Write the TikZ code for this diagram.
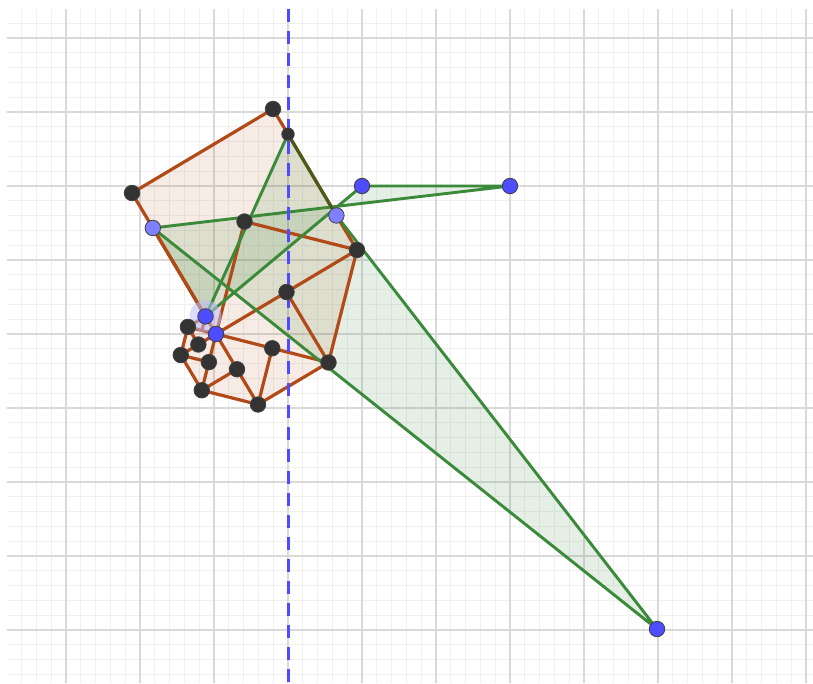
\documentclass[tikz,border=0pt]{standalone}
\usetikzlibrary{calc}
\definecolor{brownc}{RGB}{178,74,24}
\definecolor{greenc}{RGB}{58,138,58}
\definecolor{olivec}{RGB}{72,92,26}
\definecolor{bluept}{RGB}{77,77,255}
\definecolor{lbluept}{RGB}{128,128,255}
\definecolor{darkpt}{RGB}{51,51,51}
\definecolor{halo}{RGB}{190,190,250}
\begin{document}
\begin{tikzpicture}[x=1pt,y=-1pt,
  minorgrid/.style={draw=black!6, line width=0.9pt},
  majorgrid/.style={draw=black!15, line width=1.5pt},
  brownedge/.style={draw=brownc, line width=3.2pt, line join=round, line cap=round},
  greenedge/.style={draw=greenc, line width=2.9pt, line join=round, line cap=round},
  oliveedge/.style={draw=olivec, line width=3.1pt, line cap=round},
  brownfill/.style={fill=brownc, fill opacity=0.11},
  greenfill/.style={fill=greenc, fill opacity=0.13},
  ptbase/.style={circle, inner sep=0pt, minimum size=15.5pt, draw=black!75, line width=0.8pt},
  darkdot/.style={ptbase, fill=darkpt},
  smalldark/.style={ptbase, fill=darkpt, minimum size=12.5pt},
  bluedot/.style={ptbase, fill=bluept},
  lbluedot/.style={ptbase, fill=lbluept},
  axisline/.style={draw=bluept, line width=3pt, dash pattern=on 13pt off 9pt}
]
\useasboundingbox (0,0) rectangle (813,683);
\fill[white] (0,0) rectangle (813,683);
% grid
\begin{scope}
\clip (7,9) rectangle (813,683);
\foreach \i in {0,...,55} { \draw[minorgrid] ({6.8+14.8*\i},9) -- ({6.8+14.8*\i},683); }
\foreach \i in {0,...,46} { \draw[minorgrid] (7,{8.4+14.8*\i}) -- (813,{8.4+14.8*\i}); }
\foreach \x in {66,140,214,288,362,436,510,584,658,732,806} { \draw[majorgrid] (\x,9) -- (\x,683); }
\foreach \y in {38,112,186,260,334,408,482,556,630} { \draw[majorgrid] (7,\y) -- (813,\y); }
\end{scope}
% points
\coordinate (P2) at (216,334);
\coordinate (A) at (273,109);
\coordinate (C) at (132,193);
\coordinate (E) at (357,250);
\coordinate (G) at (328.5,362.5);
\coordinate (H) at (258,404.5);
\coordinate (I) at (201.75,390.25);
\coordinate (L) at (180.75,355);
\coordinate (M) at (187.9,326.9);
\coordinate (P1) at (205.5,316.4);
\coordinate (D) at ($(P2)!0.5!(A)$);
\coordinate (F) at ($(P2)!0.5!(E)$);
\coordinate (K) at ($(P2)!0.5!(G)$);
\coordinate (J) at ($(P2)!0.5!(H)$);
\coordinate (O) at ($(P2)!0.5!(I)$);
\coordinate (N) at ($(P2)!0.5!(L)$);
\coordinate (Z) at ($(P2)!0.5!(M)$);
\coordinate (B) at ($(A)!0.1786!(E)$);
\coordinate (Q1) at ($(A)!0.755!(E)$);
\coordinate (Q2) at ($(C)!0.248!(P2)$);
\coordinate (S1) at (362,186);
\coordinate (S2) at (510,186);
\coordinate (R) at (657,629);
\coordinate (Top) at (288,9);
\coordinate (Bot) at (288,683);
% fills
\path[brownfill] (P2)--(C)--(A)--(E)--cycle;
\path[brownfill] (P2)--(E)--(G)--cycle;
\path[brownfill] (P2)--(G)--(H)--cycle;
\path[brownfill] (P2)--(H)--(I)--cycle;
\path[brownfill] (P2)--(I)--(L)--cycle;
\path[brownfill] (P2)--(L)--(M)--cycle;
\path[brownfill] (P2)--(M)--(P1)--cycle;
\path[greenfill] (Q2)--(S2)--(S1)--(P1)--cycle;
\path[greenfill] (B)--(Q1)--(R)--(Q2)--(P1)--cycle;
% edges
\draw[greenedge] (Q2)--(P1);
\draw[brownedge] (C)--(A)--(E)--(G)--(H)--(I)--(L)--(M)--(P1);
\draw[brownedge] (C)--(P2);
\draw[brownedge] (E)--(P2);
\draw[brownedge] (D)--(E);
\draw[brownedge] (D)--(P2);
\draw[brownedge] (F)--(G);
\draw[brownedge] (G)--(P2);
\draw[brownedge] (K)--(H);
\draw[brownedge] (H)--(P2);
\draw[brownedge] (J)--(I);
\draw[brownedge] (I)--(P2);
\draw[brownedge] (O)--(L);
\draw[brownedge] (L)--(P2);
\draw[brownedge] (N)--(M);
\draw[brownedge] (M)--(P2);
\draw[brownedge] (Z)--(P1);
\draw[brownedge] (Q2)--(P1);
\draw[greenedge] (Q2)--(S2)--(S1)--(P1);
\draw[greenedge] (Q1)--(R)--(Q2);
\draw[greenedge] (P1)--(B);
\draw[oliveedge] (B)--(Q1);
% axis
\draw[axisline] (Top)--(Bot);
% halo
\fill[halo, opacity=0.55] (P1) circle (16pt);
% dots
\foreach \p in {A,C,D,E,F,G,H,I,J,K,L,M,N,O} { \node[darkdot] (d\p) at (\p) {}; }
\node[smalldark] (dB) at (B) {};
\foreach \p in {P1,P2,S1,S2,R} { \node[bluedot] (d\p) at (\p) {}; }
\foreach \p in {Q1,Q2} { \node[lbluedot] (d\p) at (\p) {}; }
\end{tikzpicture}
\end{document}
